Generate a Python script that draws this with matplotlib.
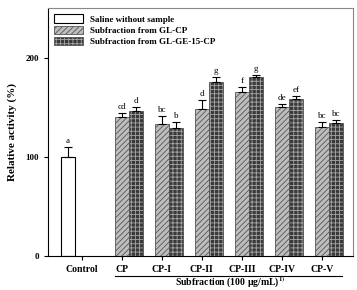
import matplotlib.pyplot as plt
import numpy as np
from matplotlib.transforms import blended_transform_factory

plt.rcParams['font.family'] = ['Liberation Serif', 'DejaVu Serif']
plt.rcParams['mathtext.fontset'] = 'stix'
plt.rcParams['hatch.linewidth'] = 0.6

categorias = ['Control', 'CP', 'CP-I', 'CP-II', 'CP-III', 'CP-IV', 'CP-V']
series = ['Saline without sample', 'Subfraction from GL-CP', 'Subfraction from GL-GE-15-CP']

saline = [100]
saline_err = [10]
saline_letra = ['a']

gl_cp = [140, 133, 148, 165, 150, 130]
gl_cp_err = [4, 8, 9, 5, 3, 5]
gl_cp_letra = ['cd', 'bc', 'd', 'f', 'de', 'bc']

gl_ge = [146, 129, 176, 181, 158, 134]
gl_ge_err = [4, 6, 5, 2, 3, 3]
gl_ge_letra = ['d', 'b', 'g', 'g', 'ef', 'bc']

x = np.arange(len(categorias))
w = 0.35

fig = plt.figure(figsize=(3.57, 2.90), dpi=100)
ax = fig.add_axes([0.134, 0.117, 0.855, 0.855])

err_kw = dict(ecolor='black', elinewidth=0.8, capsize=3, capthick=0.8)

b0 = ax.bar(x[:1] - w, saline, w, color='white', edgecolor='black', linewidth=0.8,
            yerr=[[0], saline_err], error_kw=err_kw, label=series[0])
b1 = ax.bar(x[1:], gl_cp, w, color='#bdbdbd', edgecolor='#555555', hatch='//////',
            linewidth=0.6, yerr=[[0] * 6, gl_cp_err], error_kw=err_kw, label=series[1])
b2 = ax.bar(x[1:] + w, gl_ge, w, color='#3a3a3a', edgecolor='#555555', hatch='++++',
            linewidth=0.6, yerr=[[0] * 6, gl_ge_err], error_kw=err_kw, label=series[2])
for b in b2:
    b._hatch_color = (0.65, 0.65, 0.65, 1)

def letras(xs, vals, errs, labs):
    for xi, v, e, l in zip(xs, vals, errs, labs):
        ax.text(xi, v + e + 2, l, ha='center', va='bottom', fontsize=6.5)

letras(x[:1] - w, saline, saline_err, saline_letra)
letras(x[1:], gl_cp, gl_cp_err, gl_cp_letra)
letras(x[1:] + w, gl_ge, gl_ge_err, gl_ge_letra)

ax.set_xlim(-0.85, 6.78)
ax.set_ylim(0, 250)
ax.set_yticks([0, 100, 200])
ax.set_xticks(x)
ax.set_xticklabels(categorias, fontweight='bold', fontsize=7)
for t in ax.get_yticklabels():
    t.set_fontweight('bold')
    t.set_fontsize(6.5)
ax.tick_params(axis='both', direction='out', length=3, width=0.8)
ax.set_ylabel('Relative activity (%)', fontweight='bold', fontsize=8, labelpad=6)

for s in ax.spines.values():
    s.set_linewidth(0.8)
ax.spines['top'].set_color('#888888')
ax.spines['right'].set_color('#888888')

trans = blended_transform_factory(ax.transData, ax.transAxes)
ax.plot([0.83, 6.5], [-0.08, -0.08], color='black', lw=0.8, transform=trans, clip_on=False)
ax.text(3.7, -0.108, 'Subfraction (100 μg/mL)$^{\\mathbf{1)}}$', transform=trans,
        ha='center', va='center', fontweight='bold', fontsize=7)

ax.legend(loc='upper left', frameon=False, prop={'weight': 'bold', 'size': 6.5},
          handlelength=3.2, handleheight=1.0, borderaxespad=0.3, labelspacing=0.25,
          bbox_to_anchor=(0.0, 1.0))

fig.savefig('out.png', dpi=100)
